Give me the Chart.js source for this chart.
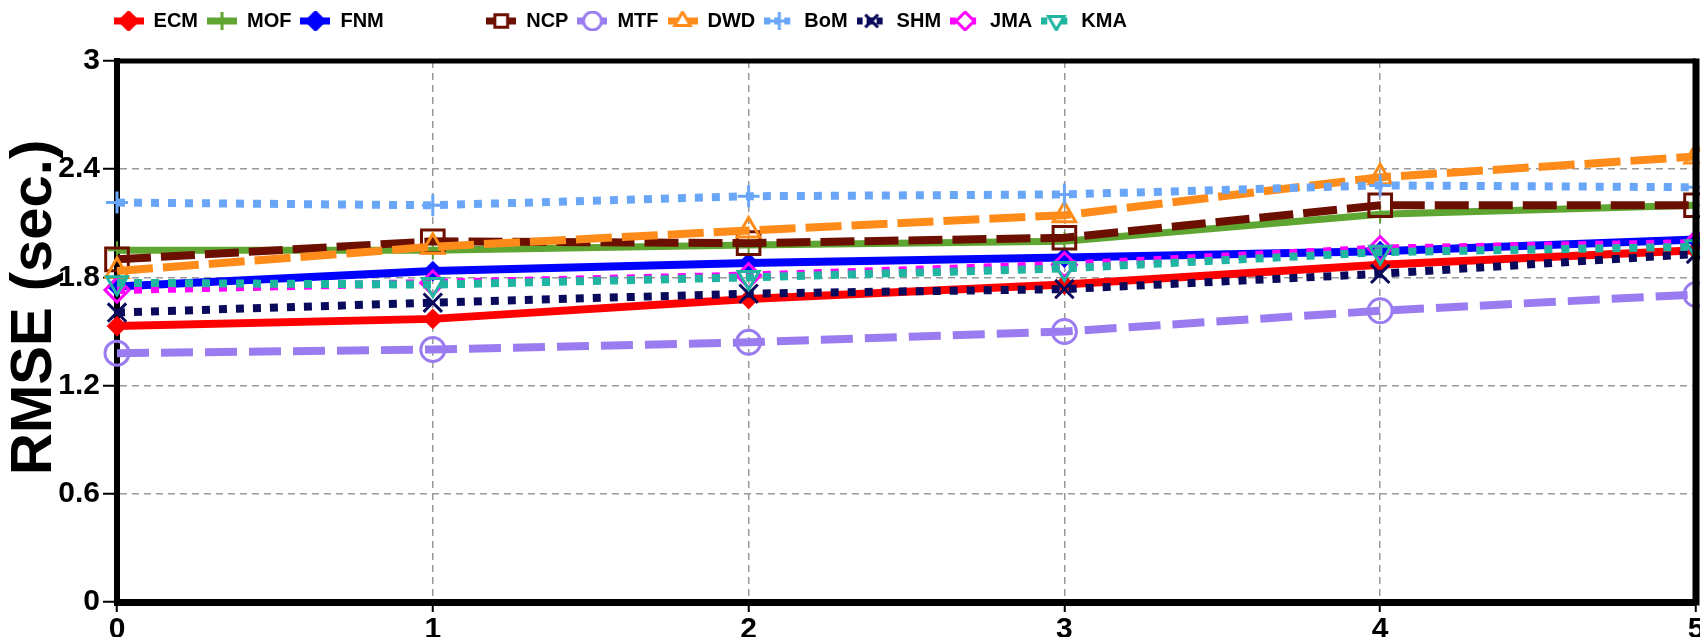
<!DOCTYPE html>
<html>
<head>
<meta charset="utf-8">
<script src="https://cdn.jsdelivr.net/npm/chart.js@4.4.1/dist/chart.umd.min.js"></script>
<style>
  html, body { margin: 0; padding: 0; background: #fff; overflow: hidden; }
  #wrap { width: 1715px; height: 637px; }
</style>
</head>
<body>
<div id="wrap"><canvas id="rmse"></canvas></div>
<script>
// lead time on x, RMSE (sec.) on y
const leadTimes = ['0', '1', '2', '3', '4', '5'];
const yTickLabels = ['0', '0.6', '1.2', '1.8', '2.4', '3'];

const ecm = [1.53, 1.57, 1.68, 1.76, 1.87, 1.95];
const mof = [1.95, 1.95, 1.98, 2.00, 2.15, 2.20];
const fnm = [1.75, 1.835, 1.88, 1.91, 1.945, 2.01];
const ncp = [1.90, 2.00, 1.99, 2.02, 2.20, 2.20];
const mtf = [1.38, 1.40, 1.44, 1.50, 1.615, 1.705];
const dwd = [1.835, 1.97, 2.06, 2.145, 2.355, 2.47];
const bom = [2.215, 2.20, 2.25, 2.26, 2.31, 2.30];
const shm = [1.605, 1.66, 1.71, 1.735, 1.82, 1.93];
const jma = [1.73, 1.77, 1.81, 1.87, 1.96, 1.99];
const kma = [1.77, 1.76, 1.80, 1.85, 1.94, 1.97];

const FONT = '"Liberation Sans", Arial, sans-serif';

const series = [
    { label: 'ECM', data: ecm, color: '#ff0000', width: 8, dash: [], marker: 'rectRot', radius: 9, fill: true },
    { label: 'MOF', data: mof, color: '#5fa532', width: 7, dash: [], marker: 'cross', radius: 9, fill: true },
    { label: 'FNM', data: fnm, color: '#0000ff', width: 8, dash: [], marker: 'rectRot', radius: 9, fill: true },
    { label: 'NCP', data: ncp, color: '#6b1000', width: 8, dash: [34, 10], marker: 'rect', radius: 16, fill: false },
    { label: 'MTF', data: mtf, color: '#9b7cf0', width: 8, dash: [32, 12], marker: 'circle', radius: 12, fill: false },
    { label: 'DWD', data: dwd, color: '#ff8c1a', width: 8, dash: [36, 10], marker: 'triangle', radius: 13, fill: false },
    { label: 'BoM', data: bom, color: '#6aa6f8', width: 8, dash: [8, 9], marker: 'cross', radius: 11, fill: false },
    { label: 'SHM', data: shm, color: '#0a0a5c', width: 8, dash: [8, 9], marker: 'crossRot', radius: 13, fill: false },
    { label: 'JMA', data: jma, color: '#ff00ff', width: 8, dash: [8, 9], marker: 'rectRot', radius: 12, fill: false },
    { label: 'KMA', data: kma, color: '#1fb5a0', width: 8, dash: [8, 9], marker: 'triangle', rotation: 180, radius: 12, fill: false }
];

// small line+marker picture for the legend
function legendIcon(s) {
    const c = document.createElement('canvas');
    c.width = 30;
    c.height = 20;
    const g = c.getContext('2d');
    g.strokeStyle = s.color;
    g.lineWidth = 7;
    g.setLineDash(s.dash.length && s.dash[0] < 10 ? [6, 4] : []);
    g.beginPath();
    g.moveTo(0, 10);
    g.lineTo(30, 10);
    g.stroke();
    g.setLineDash([]);
    g.fillStyle = s.fill ? s.color : '#fff';
    g.lineWidth = 3;
    Chart.helpers.drawPoint(g, { pointStyle: s.marker, rotation: s.rotation || 0, radius: 9, borderWidth: 3 }, 15, 10);
    return c;
}

const blank = document.createElement('canvas');
blank.width = 2;
blank.height = 2;

function spacer(n) {
    return { text: ' '.repeat(n), pointStyle: blank, fillStyle: 'rgba(0,0,0,0)', strokeStyle: 'rgba(0,0,0,0)', lineWidth: 0, hidden: false, fontColor: '#000' };
}

const legendGap = {
    id: 'legendGap',
    beforeInit(chart) {
        const fit = chart.legend.fit;
        chart.legend.fit = function () {
            fit.call(this);
            this.height += 20;
        };
    }
};

// top and right edges of the box
const framePlugin = {
    id: 'frame',
    afterDraw(chart) {
        const { ctx, chartArea: a } = chart;
        ctx.save();
        ctx.strokeStyle = '#000';
        ctx.lineWidth = 5;
        ctx.beginPath();
        ctx.moveTo(a.left - 3, a.top);
        ctx.lineTo(a.right, a.top);
        ctx.stroke();
        ctx.lineWidth = 7;
        ctx.beginPath();
        ctx.moveTo(a.right, a.top - 2.5);
        ctx.lineTo(a.right, a.bottom + 3.5);
        ctx.stroke();
        ctx.restore();
    }
};

new Chart(document.getElementById('rmse'), {
    type: 'line',
    data: {
        labels: leadTimes,
        datasets: series.map((s, i) => ({
            label: s.label,
            data: s.data,
            borderColor: s.color,
            backgroundColor: s.color,
            borderWidth: s.width,
            borderDash: s.dash,
            borderCapStyle: 'butt',
            pointStyle: s.marker,
            pointRotation: s.rotation || 0,
            pointRadius: s.radius,
            pointHoverRadius: s.radius,
            pointBorderColor: s.color,
            pointBackgroundColor: s.fill ? s.color : 'rgba(255,255,255,0)',
            pointBorderWidth: s.fill ? 2 : 3,
            tension: 0,
            clip: false,
            order: series.length - i
        }))
    },
    options: {
        responsive: true,
        maintainAspectRatio: false,
        animation: false,
        layout: { padding: { top: 2 } },
        plugins: {
            tooltip: { enabled: false },
            legend: {
                position: 'top',
                align: 'start',
                labels: {
                    usePointStyle: true,
                    pointStyleWidth: 30,
                    padding: 9,
                    color: '#000',
                    font: { family: FONT, size: 20, weight: 'bold' },
                    generateLabels: () => {
                        const items = [spacer(10)];
                        series.forEach((s, i) => {
                            if (i === 3) items.push(spacer(8));
                            items.push({
                                text: s.label,
                                pointStyle: legendIcon(s),
                                fillStyle: s.color,
                                strokeStyle: s.color,
                                lineWidth: 0,
                                hidden: false,
                                fontColor: '#000',
                                datasetIndex: i
                            });
                        });
                        return items;
                    }
                }
            }
        },
        scales: {
            x: {
                afterFit: scale => { scale.height = 35; },
                grid: {
                    color: '#9a9a9a',
                    lineWidth: 1.5,
                    tickColor: '#000',
                    tickWidth: 2,
                    tickLength: 10,
                    tickBorderDash: []
                },
                border: { display: true, color: '#000', width: 7, dash: [7, 5] },
                ticks: {
                    color: '#000',
                    padding: 0,
                    maxRotation: 0,
                    font: { family: FONT, size: 30, weight: 'bold' }
                }
            },
            y: {
                min: 0,
                max: 3,
                afterFit: scale => { scale.width = 117; },
                grid: {
                    color: '#9a9a9a',
                    lineWidth: 1.5,
                    tickColor: '#000',
                    tickWidth: 2,
                    tickLength: 14,
                    tickBorderDash: []
                },
                border: { display: true, color: '#000', width: 6, dash: [7, 5] },
                ticks: {
                    stepSize: 0.6,
                    color: '#000',
                    padding: 3,
                    font: { family: FONT, size: 30, weight: 'bold' },
                    callback: (v, i) => yTickLabels[i]
                },
                title: {
                    display: true,
                    text: '   RMSE (sec.)',
                    color: '#000',
                    padding: 0,
                    font: { family: FONT, size: 58, weight: 'bold' }
                }
            }
        }
    },
    plugins: [legendGap, framePlugin]
});
</script>
</body>
</html>
